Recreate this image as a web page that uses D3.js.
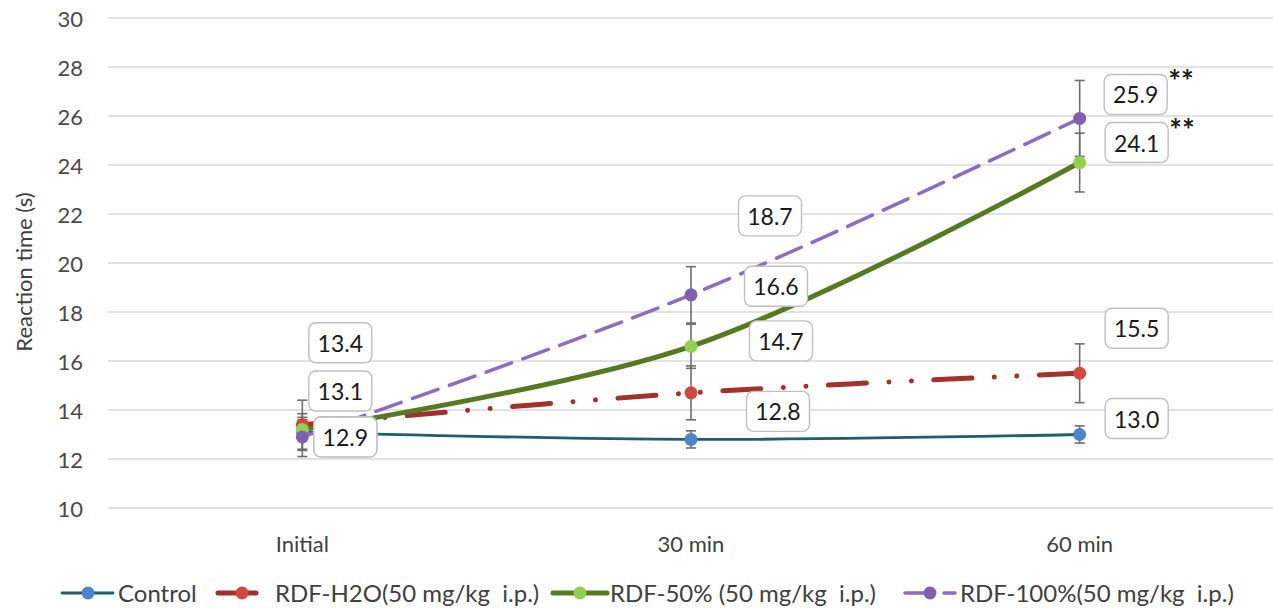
<!DOCTYPE html>
<html><head><meta charset="utf-8">
<script src="https://cdn.jsdelivr.net/npm/d3@7"></script>
<style>
body{margin:0;background:#fff;}
svg text{font-family:Lato,'Open Sans',sans-serif;}
</style>
</head><body>
<svg id="chart" width="1273" height="608"></svg>
<script>
// ---------- data ----------
const categories = ["Initial", "30 min", "60 min"];
const seriesNames = ["Control", "RDF-H2O(50 mg/kg  i.p.)", "RDF-50% (50 mg/kg  i.p.)", "RDF-100%(50 mg/kg  i.p.)"];
const controlValues = [13.1, 12.8, 13.0];
const h2oValues     = [13.4, 14.7, 15.5];
const rdf50Values   = [13.2, 16.6, 24.1];
const rdf100Values  = [12.9, 18.7, 25.9];
const controlErr = [0.75, 0.35, 0.35];
const h2oErr     = [1.0, 1.1, 1.2];
const rdf50Err   = [0.4, 0.9, 1.2];
const rdf100Err  = [0.8, 1.15, 1.55];
const rdf50Sig   = ["", "", "**"];
const rdf100Sig  = ["", "", "**"];
const yTicks = [10, 12, 14, 16, 18, 20, 22, 24, 26, 28, 30];
const yTitle = "Reaction time (s)";

// ---------- styles / layout ----------
const styles = [
  {line: "#1f5d74", marker: "#4a86cf", width: 2.8, dash: null},
  {line: "#a4302a", marker: "#d0483e", width: 5, dash: "38,22.5,0.01,22.5,0.01,22.5"},
  {line: "#557a22", marker: "#92d050", width: 5, dash: null},
  {line: "#8d6bc4", marker: "#7e5fb0", width: 3.5, dash: "27,12"}
];
// data-label offsets (px) from each point
const labelOffsets = [
  [[38, -41], [87, -28], [57, -16]],
  [[38, -82], [90, -52], [57, -45]],
  [[43, 7],   [85, -60], [57, -20]],
  [[43, 0],   [79, -79], [56, -24]]
];
const legendLayout = [
  {x0: 62, x1: 113, mx: 88, tx: 118},
  {x0: 218, x1: 261, mx: 242, tx: 275},
  {x0: 553, x1: 607, mx: 580, tx: 610},
  {x0: 905, x1: 955, mx: 930, tx: 960}
];

const series = [
  {name: seriesNames[0], values: controlValues, err: controlErr, sig: ["", "", ""]},
  {name: seriesNames[1], values: h2oValues, err: h2oErr, sig: ["", "", ""]},
  {name: seriesNames[2], values: rdf50Values, err: rdf50Err, sig: rdf50Sig},
  {name: seriesNames[3], values: rdf100Values, err: rdf100Err, sig: rdf100Sig}
];

const svg = d3.select("#chart");
const x = d3.scalePoint().domain(categories).range([108, 1274]).padding(0.5);
const y = d3.scaleLinear().domain([10, 30]).range([508, 18]);

// gridlines
svg.append("g").selectAll("line").data(yTicks).join("line")
  .attr("x1", 108).attr("x2", 1273)
  .attr("y1", d => y(d)).attr("y2", d => y(d))
  .attr("stroke", "#d9d9d9").attr("stroke-width", 1.3);

// y tick labels
svg.append("g").selectAll("text").data(yTicks).join("text")
  .attr("x", 83).attr("y", d => y(d))
  .attr("text-anchor", "end").attr("dominant-baseline", "central")
  .attr("font-size", 22).attr("fill", "#4a4a4a")
  .text(d => d);

// y title
svg.append("text")
  .attr("transform", "translate(23,272) rotate(-90)")
  .attr("text-anchor", "middle").attr("dominant-baseline", "central")
  .attr("font-size", 22).attr("fill", "#404040")
  .text(yTitle);

// x labels
svg.append("g").selectAll("text").data(categories).join("text")
  .attr("x", d => x(d)).attr("y", 543)
  .attr("text-anchor", "middle").attr("dominant-baseline", "central")
  .attr("font-size", 22).attr("fill", "#404040")
  .text(d => d);

// lines
const lineGen = d3.line()
  .x((d, i) => x(categories[i]))
  .y(d => y(d))
  .curve(d3.curveCatmullRom.alpha(0.5));

series.forEach((s, si) => {
  const st = styles[si];
  svg.append("path")
    .attr("d", lineGen(s.values))
    .attr("fill", "none")
    .attr("stroke", st.line)
    .attr("stroke-width", st.width)
    .attr("stroke-linecap", "round")
    .attr("stroke-dasharray", st.dash);
});

// error bars
const eg = svg.append("g").attr("stroke", "#6f6f6f").attr("stroke-width", 1.6);
series.forEach(s => {
  s.values.forEach((v, i) => {
    const cx = x(categories[i]);
    const top = y(v + s.err[i]), bot = y(v - s.err[i]);
    eg.append("line").attr("x1", cx).attr("x2", cx).attr("y1", top).attr("y2", bot);
    eg.append("line").attr("x1", cx - 5).attr("x2", cx + 5).attr("y1", top).attr("y2", top);
    eg.append("line").attr("x1", cx - 5).attr("x2", cx + 5).attr("y1", bot).attr("y2", bot);
  });
});

// markers
series.forEach((s, si) => {
  svg.append("g").selectAll("circle").data(s.values).join("circle")
    .attr("cx", (d, i) => x(categories[i]))
    .attr("cy", d => y(d))
    .attr("r", 6.5)
    .attr("fill", styles[si].marker);
});

// data labels
const bw = 63, bh = 40;
series.forEach((s, si) => {
  s.values.forEach((v, i) => {
    const cx = x(categories[i]) + labelOffsets[si][i][0];
    const cy = y(v) + labelOffsets[si][i][1];
    const g = svg.append("g");
    g.append("rect")
      .attr("x", cx - bw / 2).attr("y", cy - bh / 2)
      .attr("width", bw).attr("height", bh)
      .attr("rx", 7).attr("ry", 7)
      .attr("fill", "#fff").attr("stroke", "#bfbfbf").attr("stroke-width", 1.4);
    g.append("text")
      .attr("x", cx).attr("y", cy)
      .attr("text-anchor", "middle").attr("dominant-baseline", "central")
      .attr("font-size", 23).attr("fill", "#1a1a1a")
      .text(d3.format(".1f")(v));
    if (s.sig[i]) {
      g.append("text")
        .attr("x", cx + bw / 2 + 1).attr("y", cy - bh / 2 + 18)
        .attr("font-size", 30).attr("font-weight", "bold").attr("fill", "#1a1a1a")
        .text(s.sig[i]);
    }
  });
});

// legend
const lg = svg.append("g");
series.forEach((s, si) => {
  const L = legendLayout[si], st = styles[si];
  lg.append("line")
    .attr("x1", L.x0).attr("x2", L.x1).attr("y1", 593).attr("y2", 593)
    .attr("stroke", st.line).attr("stroke-width", st.width)
    .attr("stroke-linecap", "round")
    .attr("stroke-dasharray", st.dash);
  lg.append("circle").attr("cx", L.mx).attr("cy", 593).attr("r", 6.5).attr("fill", st.marker);
  lg.append("text")
    .attr("x", L.tx).attr("y", 592)
    .attr("dominant-baseline", "central")
    .attr("font-size", 24).attr("fill", "#404040")
    .attr("xml:space", "preserve").style("white-space", "pre")
    .text(s.name);
});
</script>
</body></html>
